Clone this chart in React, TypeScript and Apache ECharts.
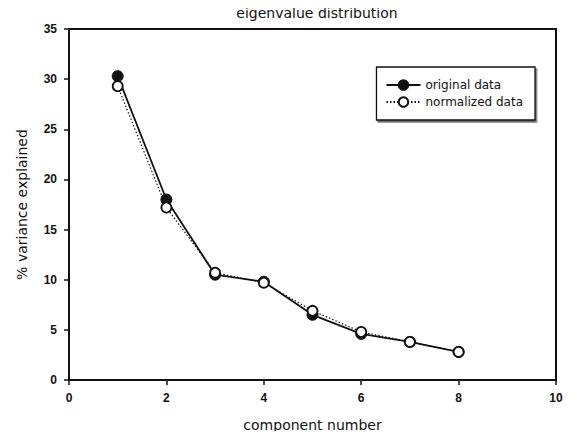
import React, { useEffect, useRef } from "react";
import * as echarts from "echarts";

const components = [1, 2, 3, 4, 5, 6, 7, 8];
const originalData = [30.3, 18.0, 10.5, 9.8, 6.5, 4.6, 3.8, 2.8];
const normalizedData = [29.3, 17.2, 10.7, 9.7, 6.9, 4.8, 3.8, 2.8];

const FONT = "Liberation Sans, Arial, sans-serif";
const NAME_FONT = "DejaVu Sans, sans-serif";

export default function App() {
  const ref = useRef<HTMLDivElement>(null);
  useEffect(() => {
    if (!ref.current) return;
    const chart = echarts.init(ref.current, null, { renderer: "svg" });
    chart.setOption({
      animation: false,
      backgroundColor: "#fff",
      title: {
        text: "eigenvalue distribution",
        left: 312,
        textAlign: "center",
        top: 1,
        textStyle: { fontFamily: NAME_FONT, fontSize: 14, fontWeight: "normal", color: "#111" },
      },
      legend: {
        right: 40,
        top: 67,
        orient: "vertical",
        itemWidth: 34,
        itemHeight: 12,
        itemGap: 5,
        padding: [12, 12, 12, 9],
        borderColor: "#111",
        borderWidth: 1.3,
        backgroundColor: "#fff",
        shadowColor: "rgba(0,0,0,0.55)",
        shadowOffsetX: 1.5,
        shadowOffsetY: 2,
        shadowBlur: 0,
        textStyle: { fontFamily: NAME_FONT, fontSize: 12, lineHeight: 12, color: "#111" },
        data: ["original data", "normalized data"],
      },
      grid: {
        left: 69,
        right: 19,
        top: 29,
        bottom: 59,
        show: true,
        borderColor: "#111",
        borderWidth: 2,
      },
      xAxis: {
        type: "value",
        min: 0,
        max: 10,
        interval: 2,
        name: "component number",
        nameLocation: "middle",
        nameGap: 38,
        nameTextStyle: { fontFamily: NAME_FONT, fontSize: 14, color: "#111" },
        axisLine: { lineStyle: { color: "#111", width: 2 } },
        axisTick: { length: 5, lineStyle: { color: "#111", width: 1.5 } },
        axisLabel: { fontFamily: FONT, fontSize: 12, fontWeight: "bold", color: "#111", margin: 12 },
        splitLine: { show: false },
      },
      yAxis: {
        type: "value",
        min: 0,
        max: 35,
        interval: 5,
        name: "% variance explained",
        nameLocation: "middle",
        nameGap: 40,
        nameTextStyle: { fontFamily: NAME_FONT, fontSize: 14, color: "#111" },
        axisLine: { show: true, lineStyle: { color: "#111", width: 2 } },
        axisTick: { show: true, length: 5, lineStyle: { color: "#111", width: 1.5 } },
        axisLabel: { fontFamily: FONT, fontSize: 12, fontWeight: "bold", color: "#111", margin: 12 },
        splitLine: { show: false },
      },
      series: [
        {
          name: "original data",
          type: "line",
          data: components.map((c, i) => [c, originalData[i]]),
          symbol: "circle",
          symbolSize: 11,
          lineStyle: { color: "#111", width: 1.8, type: "solid" },
          itemStyle: { color: "#111", borderColor: "#111", borderWidth: 1 },
          z: 2,
        },
        {
          name: "normalized data",
          type: "line",
          data: components.map((c, i) => [c, normalizedData[i]]),
          symbol: "circle",
          symbolSize: 10,
          lineStyle: { color: "#111", width: 1.2, type: [1.5, 2] },
          itemStyle: { color: "#fff", borderColor: "#111", borderWidth: 1.8 },
          z: 3,
        },
      ],
    });
    return () => chart.dispose();
  }, []);
  return <div ref={ref} style={{ width: 575, height: 439, margin: -8 }} />;
}
